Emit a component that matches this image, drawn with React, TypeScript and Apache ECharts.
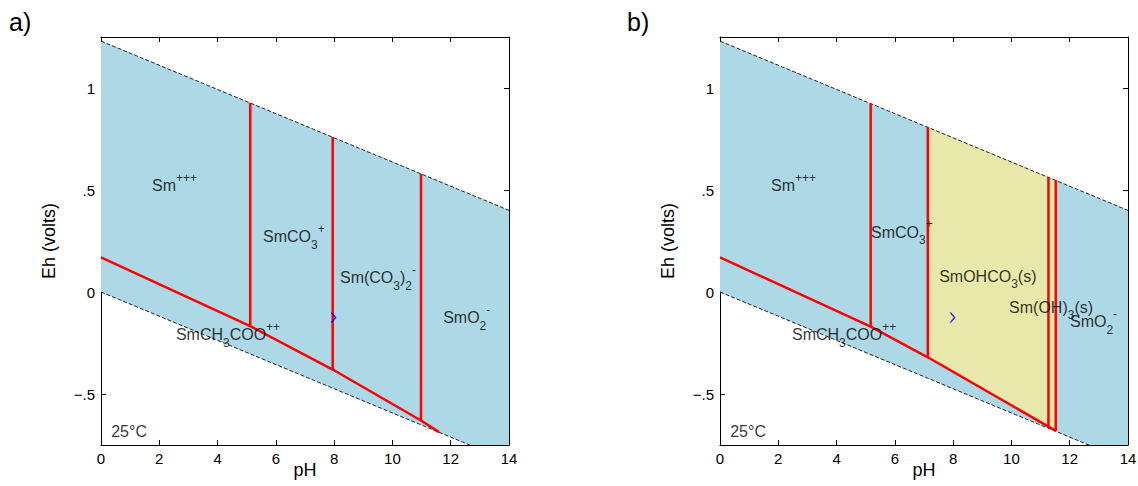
import React, { useEffect, useRef } from "react";
import * as echarts from "echarts";

// ---- data ----
const phTicks = [0, 2, 4, 6, 8, 10, 12, 14];
const ehTicks = [-0.5, 0, 0.5, 1];

const waterUpper = [[0, 1.23], [14, 0.4]];
const waterLower = [[0, 0], [14, -0.83]];

// panel a
const slopedA = [[0, 0.17], [5.12, -0.167], [7.95, -0.38], [10.98, -0.63], [11.6, -0.687]];
const vertPhA = [5.12, 7.95, 10.98];
const vertTopA = [0.927, 0.76, 0.58];
const vertBotA = [-0.167, -0.38, -0.63];

// panel b
const slopedB = [[0, 0.17], [5.17, -0.17], [7.13, -0.32], [11.27, -0.66], [11.52, -0.68]];
const vertPhB = [5.17, 7.13, 11.27, 11.52];
const vertTopB = [0.924, 0.808, 0.563, 0.548];
const vertBotB = [-0.17, -0.32, -0.66, -0.68];
const solidB = [[7.13, 0.808], [11.27, 0.563], [11.52, 0.548], [11.52, -0.68], [11.27, -0.66], [7.13, -0.32]];

const marker = [7.98, -0.125];

// species labels: [text (rich), pH, Eh]
const labelsA: [string, number, number][] = [
  ["{n|Sm}{sup|+++}", 1.75, 0.52],
  ["{n|SmCO}{sub|3}{sup|+}", 5.56, 0.27],
  ["{n|Sm(CO}{sub|3}{n|)}{sub|2}{sup|-}", 8.2, 0.069],
  ["{n|SmO}{sub|2}{sup|-}", 11.74, -0.127],
  ["{n|SmCH}{sub|3}{n|COO}{sup|++}", 2.57, -0.21],
  ["{n|25°C}", 0.35, -0.686],
];
const labelsB: [string, number, number][] = [
  ["{n|Sm}{sup|+++}", 1.75, 0.52],
  ["{n|SmCO}{sub|3}{sup|+}", 5.18, 0.294],
  ["{n|SmOHCO}{sub|3}{n|(s)}", 7.52, 0.078],
  ["{n|Sm(OH)}{sub|3}{n|(s)}", 9.92, -0.074],
  ["{n|SmO}{sub|2}{sup|-}", 12.01, -0.147],
  ["{n|SmCH}{sub|3}{n|COO}{sup|++}", 2.47, -0.21],
  ["{n|25°C}", 0.35, -0.686],
];

const FONT = "'Liberation Sans', Arial, sans-serif";
const BLUE = "#add8e6";
const YELLOW = "#e8e8aa";
const RED = "#ff0000";
const INK = "#000";

const fmtEh = (v: number) => {
  if (v === 0) return "0";
  const s = String(Math.abs(v)).replace(/^0/, "");
  return (v < 0 ? "\u2212" : "") + s;
};

function axesFor(gridIndex: number) {
  const common = {
    gridIndex,
    axisLine: { show: true, onZero: false, lineStyle: { color: "#000", width: 1 } },
    splitLine: { show: false },
  };
  const xs = [
    {
      ...common,
      type: "value",
      position: "bottom",
      min: phTicks[0],
      max: phTicks[phTicks.length - 1],
      interval: 2,
      axisTick: { inside: true, length: 5, lineStyle: { color: "#000" } },
      axisLabel: { color: INK, fontSize: 15, fontFamily: FONT, margin: 6 },
      name: "pH",
      nameLocation: "middle",
      nameGap: 16,
      nameMoveOverlap: false,
      nameTextStyle: { color: INK, fontSize: 18, fontFamily: FONT, verticalAlign: "top" },
    },
    {
      ...common,
      type: "value",
      position: "top",
      min: phTicks[0],
      max: phTicks[phTicks.length - 1],
      interval: 2,
      axisTick: { inside: true, length: 5, lineStyle: { color: "#000" } },
      axisLabel: { show: false },
    },
  ];
  const ys = [
    {
      ...common,
      type: "value",
      position: "left",
      min: -0.75,
      max: 1.25,
      axisTick: { inside: true, length: 5, customValues: ehTicks, lineStyle: { color: "#000" } },
      axisLabel: {
        color: INK,
        fontSize: 15,
        fontFamily: FONT,
        margin: 6,
        customValues: ehTicks,
        formatter: (v: number) => fmtEh(v),
      },
      name: "Eh (volts)",
      nameLocation: "middle",
      nameGap: 43,
      nameMoveOverlap: false,
      nameTextStyle: { color: INK, fontSize: 18, fontFamily: FONT },
    },
    {
      ...common,
      type: "value",
      position: "right",
      min: -0.75,
      max: 1.25,
      axisTick: { inside: true, length: 5, customValues: ehTicks, lineStyle: { color: "#000" } },
      axisLabel: { show: false, customValues: ehTicks },
    },
  ];
  return { xs, ys };
}

function polySeries(xi: number, yi: number, pts: number[][], color: string, z: number) {
  return {
    type: "custom",
    xAxisIndex: xi,
    yAxisIndex: yi,
    clip: true,
    silent: true,
    z,
    data: [[0, 0]],
    renderItem: (_p: any, api: any) => ({
      type: "polygon",
      shape: { points: pts.map((p) => api.coord(p)) },
      style: { fill: color, stroke: "none" },
    }),
  };
}

function lineSeries(xi: number, yi: number, data: number[][], style: any, z: number) {
  return {
    type: "line",
    xAxisIndex: xi,
    yAxisIndex: yi,
    data,
    symbol: "none",
    silent: true,
    clip: true,
    z,
    lineStyle: style,
  };
}

const rich = {
  n: { fontSize: 16, fontFamily: FONT, color: INK, lineHeight: 28, verticalAlign: "middle" },
  sub: { fontSize: 12, fontFamily: FONT, color: INK, lineHeight: 12, verticalAlign: "bottom" },
  sup: { fontSize: 12, fontFamily: FONT, color: INK, lineHeight: 12, verticalAlign: "top" },
};

function panelSeries(
  xi: number,
  yi: number,
  sloped: number[][],
  vph: number[],
  vtop: number[],
  vbot: number[],
  labels: [string, number, number][],
  solid?: number[][]
) {
  const s: any[] = [];
  s.push(polySeries(xi, yi, [waterUpper[0], waterUpper[1], waterLower[1], waterLower[0]], BLUE, 1));
  if (solid) s.push(polySeries(xi, yi, solid, YELLOW, 2));
  s.push(lineSeries(xi, yi, waterUpper, { color: "#222", width: 1, type: [4, 2] }, 3));
  s.push(lineSeries(xi, yi, waterLower, { color: "#222", width: 1, type: [4, 2] }, 3));
  s.push(lineSeries(xi, yi, sloped, { color: RED, width: 2.5 }, 4));
  vph.forEach((ph, i) => {
    s.push(lineSeries(xi, yi, [[ph, vtop[i]], [ph, vbot[i]]], { color: RED, width: 2.5 }, 4));
  });
  s.push({
    type: "scatter",
    xAxisIndex: xi,
    yAxisIndex: yi,
    silent: true,
    z: 5,
    symbol: "path://M0,0L4,5L0,10L1.8,10L5.8,5L1.8,0Z",
    symbolSize: [6, 10],
    itemStyle: { color: "#0000ff" },
    data: [marker],
  });
  s.push({
    type: "scatter",
    xAxisIndex: xi,
    yAxisIndex: yi,
    silent: true,
    z: 6,
    symbolSize: 0,
    data: labels.map((l) => ({
      value: [l[1], l[2]],
      label: {
        show: true,
        position: [0, 0],
        align: "left",
        verticalAlign: "middle",
        formatter: l[0],
        rich,
      },
    })),
  });
  return s;
}

export default function App() {
  const ref = useRef<HTMLDivElement>(null);
  useEffect(() => {
    if (!ref.current) return;
    const chart = echarts.init(ref.current, undefined, { renderer: "svg" });
    const a = axesFor(0);
    const b = axesFor(1);
    const option: any = {
      animation: false,
      backgroundColor: "#fff",
      textStyle: { fontFamily: FONT },
      grid: [
        { left: 101, top: 37, width: 408, height: 408, containLabel: false, outerBoundsMode: "none" },
        { left: 720, top: 37, width: 408, height: 408, containLabel: false, outerBoundsMode: "none" },
      ],
      xAxis: [...a.xs, ...b.xs],
      yAxis: [...a.ys, ...b.ys],
      graphic: [
        { type: "text", left: 9, top: 9, style: { text: "a)", fontSize: 25, fontFamily: FONT, fill: INK } },
        { type: "text", left: 627, top: 9, style: { text: "b)", fontSize: 25, fontFamily: FONT, fill: INK } },
      ],
      series: [
        ...panelSeries(0, 0, slopedA, vertPhA, vertTopA, vertBotA, labelsA),
        ...panelSeries(2, 2, slopedB, vertPhB, vertTopB, vertBotB, labelsB, solidB),
      ],
    };
    chart.setOption(option);
    return () => chart.dispose();
  }, []);
  return (
    <div
      ref={ref}
      style={{ position: "fixed", left: 0, top: 0, width: 1138, height: 486 }}
    />
  );
}
